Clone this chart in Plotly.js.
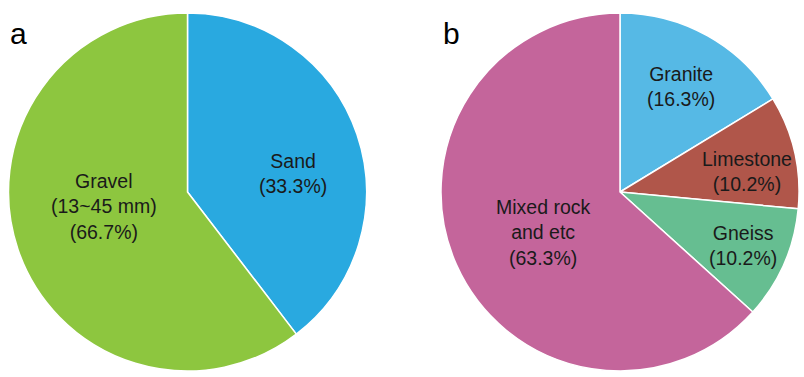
<!DOCTYPE html>
<html>
<head>
<meta charset="utf-8">
<script src="https://cdn.plot.ly/plotly-3.0.1.min.js"></script>
<style>html,body{margin:0;padding:0;background:#fff}#chart{width:804px;height:377px}</style>
</head>
<body>
<div id="chart"></div>
<script>
// Panel a (slice sizes as drawn; labels as printed)
const aCategories = ["Sand", "Gravel"];
const aValues = [39.6, 60.4];
const aLabels = ["Sand<br>(33.3%)", "Gravel<br>(13~45 mm)<br>(66.7%)"];
const aColors = ["#29a9e0", "#8dc63f"];

// Panel b
const bCategories = ["Granite", "Limestone", "Gneiss", "Mixed rock and etc"];
const bValues = [16.3, 10.2, 10.2, 63.3];
const bLabels = ["Granite<br>(16.3%)", "Limestone<br>(10.2%)", "Gneiss<br>(10.2%)", "Mixed rock<br>and etc<br>(63.3%)"];
const bColors = ["#56b9e5", "#b0564a", "#66be91", "#c4659b"];

const W = 804, H = 377;
const font = {family: "Liberation Sans, Arial, sans-serif", size: 19.5, color: "#1a1a1a"};

const traces = [
  {type: "pie", labels: aCategories, values: aValues, sort: false, direction: "clockwise", rotation: 0,
   marker: {colors: aColors, line: {color: "#ffffff", width: 1.5}}, textinfo: "none", hoverinfo: "label+percent",
   domain: {x: [(187.5-179)/W, (187.5+179)/W], y: [0, 1]}, showlegend: false},
  {type: "pie", labels: bCategories, values: bValues, sort: false, direction: "clockwise", rotation: 0,
   marker: {colors: bColors, line: {color: "#ffffff", width: 1.5}}, textinfo: "none", hoverinfo: "label+percent",
   domain: {x: [(620-179)/W, (620+179)/W], y: [0, 1]}, showlegend: false}
];

function ann(text, px, py, extra) {
  return Object.assign({text: text, x: px / W, y: 1 - py / H, xref: "paper", yref: "paper",
    xanchor: "center", yanchor: "middle", showarrow: false, font: font}, extra || {});
}

const labelPos = {
  a: [[293, 169], [104, 204]],
  b: [[681, 77], [747, 166.5], [743, 244.5], [543, 231]]
};

const annotations = [];
aLabels.forEach((t, i) => annotations.push(ann(t, labelPos.a[i][0], labelPos.a[i][1])));
bLabels.forEach((t, i) => annotations.push(ann(t, labelPos.b[i][0], labelPos.b[i][1])));
annotations.push({text: "a", x: 8 / W, y: 1 - 2 / H, xref: "paper", yref: "paper", xanchor: "left", yanchor: "top",
  showarrow: false, font: {family: "Liberation Sans, Arial, sans-serif", size: 30, color: "#000"}});
annotations.push({text: "b", x: 441 / W, y: 1 - 2 / H, xref: "paper", yref: "paper", xanchor: "left", yanchor: "top",
  showarrow: false, font: {family: "Liberation Sans, Arial, sans-serif", size: 30, color: "#000"}});

const layout = {
  width: W, height: H,
  margin: {l: 0, r: 0, t: 13, b: 6, pad: 0},
  paper_bgcolor: "#ffffff", plot_bgcolor: "#ffffff",
  showlegend: false,
  annotations: annotations
};

Plotly.newPlot("chart", traces, layout, {displayModeBar: false, staticPlot: true});
</script>
</body>
</html>
